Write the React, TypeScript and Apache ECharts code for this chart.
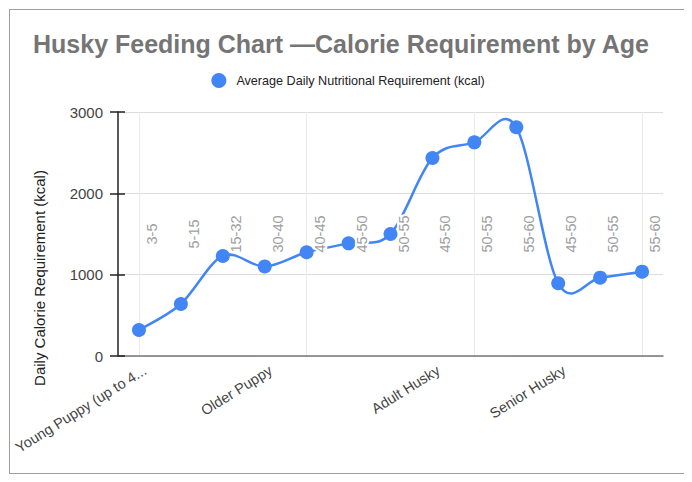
import React, { useEffect, useRef } from "react";
import * as echarts from "echarts";

const stages = [
  "Young Puppy (up to 4...",
  "",
  "",
  "Older Puppy",
  "",
  "",
  "",
  "Adult Husky",
  "",
  "",
  "Senior Husky",
  "",
  "",
];
const ageRanges = [
  "3-5",
  "5-15",
  "15-32",
  "30-40",
  "40-45",
  "45-50",
  "50-55",
  "45-50",
  "50-55",
  "55-60",
  "45-50",
  "50-55",
  "55-60",
];
const calories = [320, 640, 1230, 1100, 1275, 1385, 1500, 2435, 2627, 2812, 894, 963, 1037];
const seriesName = "Average Daily Nutritional Requirement (kcal)";
const yMin = 0;
const yMax = 3000;
const yStep = 1000;
const annotationLevel = 1500;

const FONT = 'Arial, "Liberation Sans", sans-serif';
const BLUE = "#4285F4";

export default function App() {
  const ref = useRef<HTMLDivElement>(null);
  useEffect(() => {
    if (!ref.current) return;
    const chart = echarts.init(ref.current, undefined, { renderer: "svg" });
    const n = calories.length;
    chart.setOption({
      animation: false,
      backgroundColor: "#ffffff",
      title: {
        text: "Husky Feeding Chart \u2014Calorie Requirement by Age",
        left: 18,
        top: 16,
        textStyle: { fontFamily: FONT, fontSize: 25, fontWeight: "bold", color: "#757575" },
      },
      legend: {
        left: "center",
        top: 58,
        icon: "circle",
        itemWidth: 25,
        itemHeight: 15,
        textStyle: { fontFamily: FONT, fontSize: 12.6, color: "#222222" },
        data: [seriesName],
      },
      grid: {
        left: 108,
        top: 102,
        right: 23,
        bottom: 117,
        containLabel: false,
        outerBoundsMode: "none",
      },
      xAxis: {
        type: "category",
        data: stages,
        boundaryGap: true,
        axisLine: { show: true, lineStyle: { color: "#777777", width: 1.5 } },
        axisTick: { show: false },
        axisLabel: { show: false },
        splitLine: { show: true, alignWithLabel: true, lineStyle: { color: "#ebebeb", width: 1 } },
      },
      yAxis: [
        {
          type: "value",
          min: yMin,
          max: yMax,
          interval: yStep,
          axisLine: { show: true, lineStyle: { color: "#222222", width: 1.5 } },
          axisTick: { show: true, length: 8, lineStyle: { color: "#222222", width: 1.5 } },
          axisLabel: {
            margin: 15,
            fontFamily: FONT,
            fontSize: 15,
            color: "#444444",
            formatter: (v: number) => String(v),
          },
          splitLine: { show: true, lineStyle: { color: "#dddddd", width: 1 } },
        },
        {
          type: "value",
          min: yMin,
          max: yMax,
          interval: yStep,
          position: "left",
          offset: 0,
          axisLine: { show: false },
          axisTick: { show: true, inside: true, length: 7, lineStyle: { color: "#222222", width: 1.5 } },
          axisLabel: { show: false },
          splitLine: { show: false },
        },
      ],
      graphic: [
        {
          type: "text",
          x: 29,
          y: 268,
          rotation: Math.PI / 2,
          style: {
            text: "Daily Calorie Requirement (kcal)",
            fill: "#222222",
            font: `15px ${FONT}`,
            align: "center",
            verticalAlign: "middle",
          },
        },
      ],
      series: [
        {
          name: "curve",
          type: "custom",
          z: 2,
          silent: true,
          data: calories.map((v, i) => [i, v]),
          renderItem: (params: any, api: any) => {
            const i = params.dataIndex;
            if (i >= n - 1) return { type: "group", children: [] };
            const pt = (j: number) => {
              const k = Math.max(0, Math.min(n - 1, j));
              return api.coord([k, calories[k]]);
            };
            const p0 = pt(i - 1);
            const p1 = pt(i);
            const p2 = pt(i + 1);
            const p3 = pt(i + 2);
            const t = 1 / 6;
            return {
              type: "bezierCurve",
              shape: {
                x1: p1[0],
                y1: p1[1],
                x2: p2[0],
                y2: p2[1],
                cpx1: p1[0] + (p2[0] - p0[0]) * t,
                cpy1: p1[1] + (p2[1] - p0[1]) * t,
                cpx2: p2[0] - (p3[0] - p1[0]) * t,
                cpy2: p2[1] - (p3[1] - p1[1]) * t,
              },
              style: { stroke: BLUE, lineWidth: 2.5, fill: "none" },
            };
          },
        },
        {
          name: seriesName,
          type: "scatter",
          data: calories,
          symbol: "circle",
          symbolSize: 14,
          color: BLUE,
          itemStyle: { color: BLUE, opacity: 1 },
          z: 3,
        },
        {
          name: "ranges",
          type: "custom",
          z: 5,
          silent: true,
          data: ageRanges.map((_, i) => [i, annotationLevel]),
          renderItem: (params: any, api: any) => {
            const i = params.dataIndex;
            const p = api.coord([i, api.value(1)]);
            return {
              type: "text",
              x: p[0] + 13,
              y: p[1],
              rotation: Math.PI / 2,
              style: {
                text: ageRanges[i],
                fill: "#9e9e9e",
                font: `14.5px ${FONT}`,
                align: "center",
                verticalAlign: "middle",
                stroke: "#ffffff",
                lineWidth: 4,
              },
            };
          },
        },
        {
          name: "stageLabels",
          type: "custom",
          z: 4,
          silent: true,
          clip: false,
          data: stages.map((_, i) => [i, yMin]),
          renderItem: (params: any, api: any) => {
            const i = params.dataIndex;
            if (!stages[i]) return { type: "group", children: [] };
            const p = api.coord([i, api.value(1)]);
            return {
              type: "text",
              x: p[0] + 6,
              y: p[1] + 13,
              rotation: (32 * Math.PI) / 180,
              style: {
                text: stages[i],
                fill: "#444444",
                font: `14.5px ${FONT}`,
                align: "right",
                verticalAlign: "middle",
              },
            };
          },
        },
      ],
    });
    return () => chart.dispose();
  }, []);
  return (
    <div
      style={{
        width: 676,
        height: 463,
        border: "1px solid #9e9e9e",
        marginLeft: 1,
        marginTop: 1,
      }}
    >
      <div ref={ref} style={{ width: 676, height: 463 }} />
    </div>
  );
}
